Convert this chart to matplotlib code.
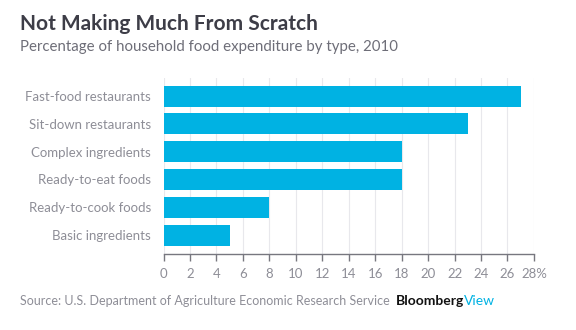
import matplotlib.pyplot as plt

# food spending shares (percent), top to bottom
categories = ['Fast-food restaurants', 'Sit-down restaurants', 'Complex ingredients',
              'Ready-to-eat foods', 'Ready-to-cook foods', 'Basic ingredients']
shares = [27, 23, 18, 18, 8, 5]
ticks = list(range(0, 29, 2))
tick_labels = [str(t) for t in ticks[:-1]] + ['28%']

plt.rcParams['font.family'] = ['Lato', 'DejaVu Sans']

bar_color = '#00b2e3'
label_gray = '#8e8e97'

fig = plt.figure(figsize=(5.76, 3.30), dpi=100)
ax = fig.add_axes([0.284, 0.2303, 0.643, 0.5333])

ypos = list(range(len(categories)))[::-1]
ax.barh(ypos, shares, height=0.76, color=bar_color, zorder=2)

ax.set_xlim(0, 28)
ax.set_ylim(-0.68, 5.65)
ax.set_xticks(ticks)
ax.set_xticklabels(tick_labels, color=label_gray, fontsize=9.5)
ax.set_yticks(ypos)
ax.set_yticklabels(categories, color=label_gray, fontsize=9.5)

ax.grid(axis='x', color='#e8e8ec', linewidth=0.8, zorder=0)
for s in ['top', 'right', 'left']:
    ax.spines[s].set_visible(False)
ax.spines['bottom'].set_color('#77777f')
ax.spines['bottom'].set_linewidth(1.0)
ax.tick_params(axis='x', direction='out', length=5, width=1.0, color='#77777f', pad=5)
ax.tick_params(axis='y', length=0, pad=9)

# header and footer
fig.text(20 / 576, 1 - 24 / 330, 'Not Making Much From Scratch', fontsize=15,
         fontweight='bold', color='#3d3d47', va='center', ha='left')
fig.text(20 / 576, 1 - 47 / 330, 'Percentage of household food expenditure by type, 2010',
         fontsize=10.8, color='#6e6e78', va='center', ha='left')
fig.text(20 / 576, 1 - 301 / 330, 'Source: U.S. Department of Agriculture Economic Research Service',
         fontsize=9, color=label_gray, va='center', ha='left')
t = fig.text(396 / 576, 1 - 301 / 330, 'Bloomberg', fontsize=10, fontweight='bold',
             color='#111111', va='center', ha='left')
fig.canvas.draw()
bb = t.get_window_extent()
fig.text(bb.x1 / fig.bbox.width, 1 - 301 / 330, 'View', fontsize=10,
         color=bar_color, va='center', ha='left')

fig.savefig('out.png', dpi=100)
